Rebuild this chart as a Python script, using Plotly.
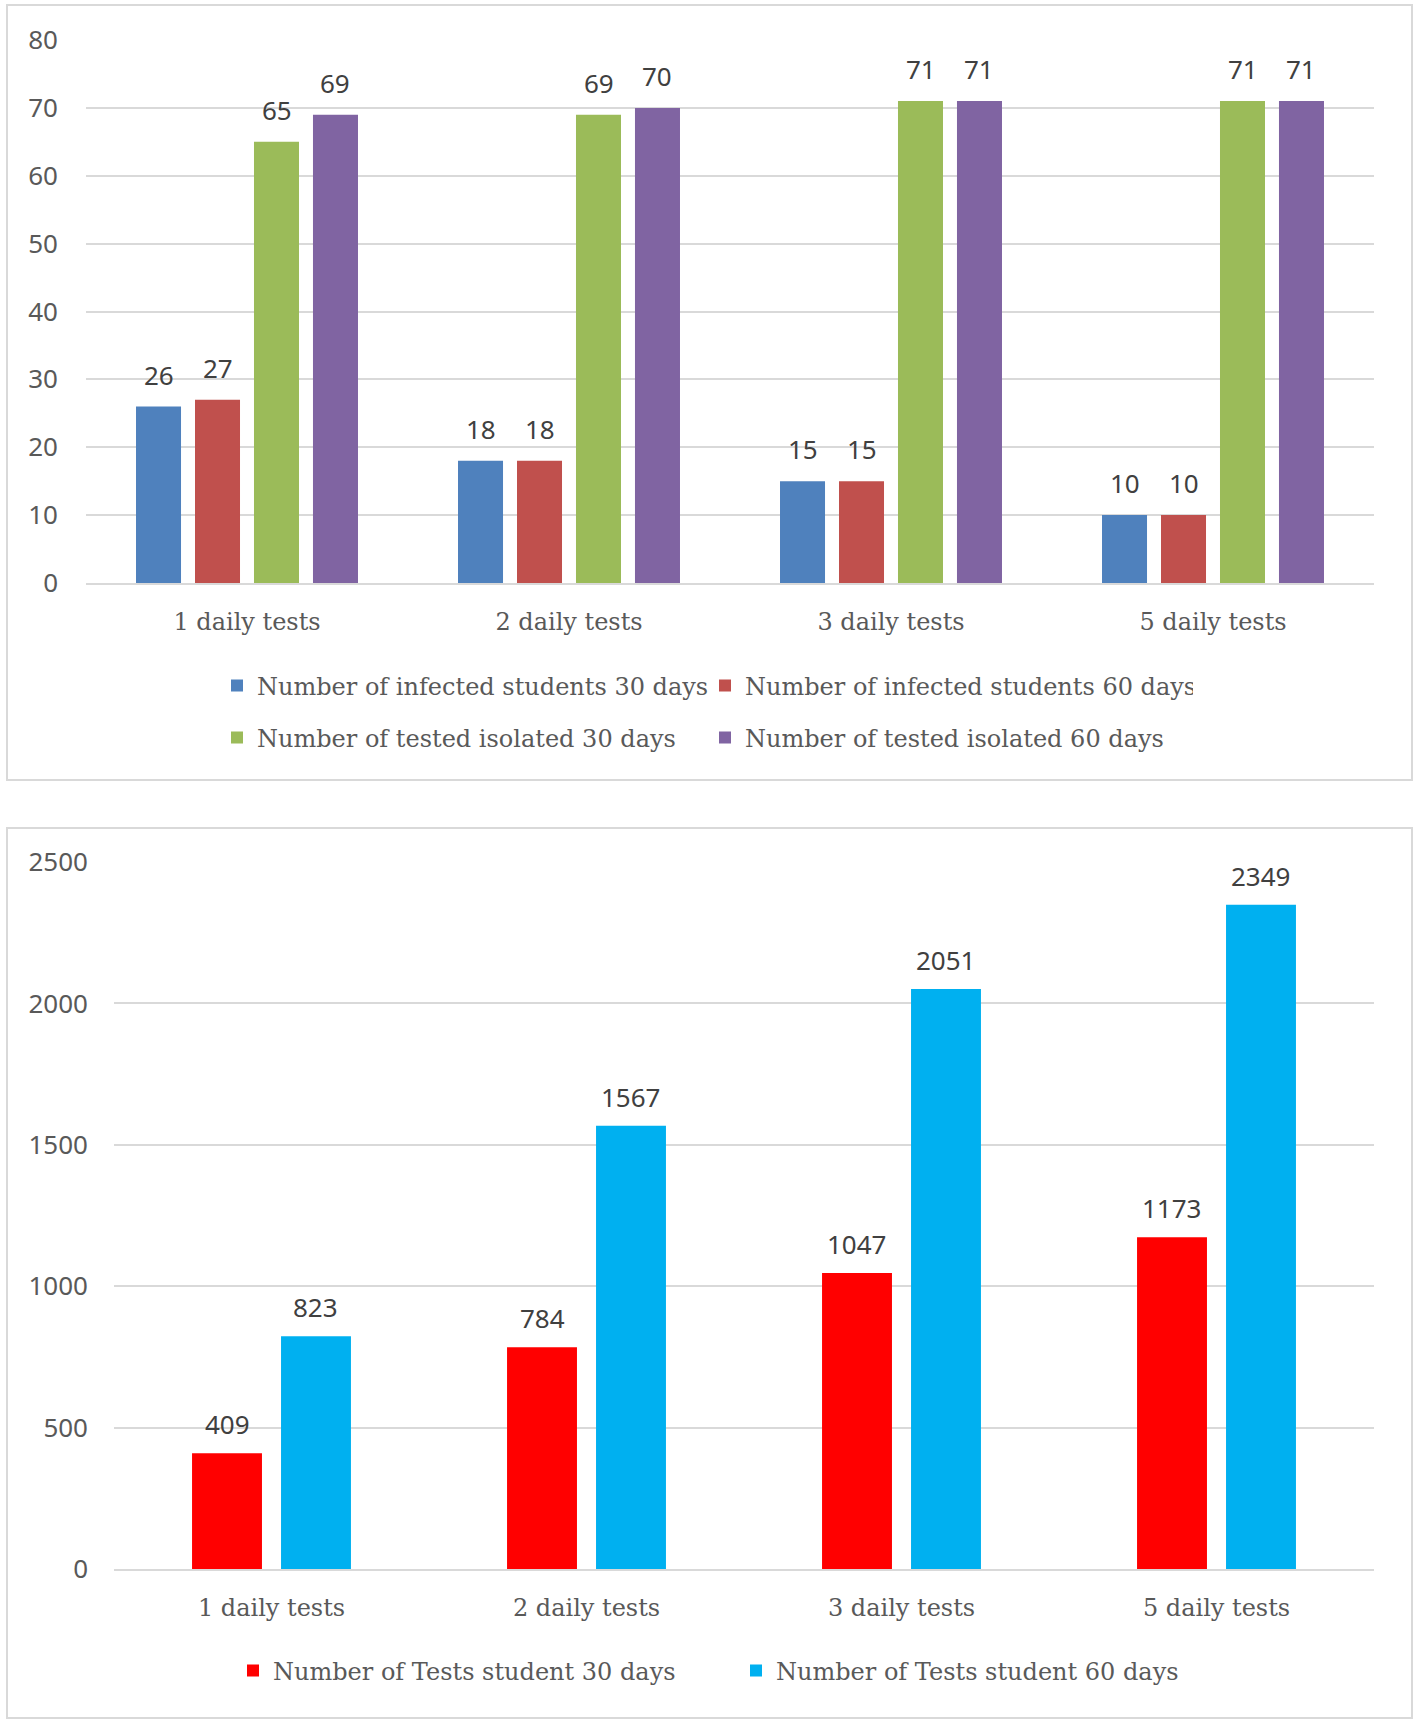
import plotly.graph_objects as go

W, H = 1418, 1724

categories = ["1 daily tests", "2 daily tests", "3 daily tests", "5 daily tests"]

top_names = ["Number of infected students 30 days", "Number of infected students 60 days",
             "Number of tested isolated 30 days", "Number of tested isolated 60 days"]
infected_30 = [26, 18, 15, 10]
infected_60 = [27, 18, 15, 10]
isolated_30 = [65, 69, 71, 71]
isolated_60 = [69, 70, 71, 71]
top_values = [infected_30, infected_60, isolated_30, isolated_60]
top_colors = ["#4F81BD", "#C0504D", "#9BBB59", "#8064A2"]
top_legends = ["legend", "legend", "legend2", "legend2"]
top_yticks = [0, 10, 20, 30, 40, 50, 60, 70, 80]

bot_names = ["Number of Tests student 30 days", "Number of Tests student 60 days"]
tests_30 = [409, 784, 1047, 1173]
tests_60 = [823, 1567, 2051, 2349]
bot_values = [tests_30, tests_60]
bot_colors = ["#FF0000", "#00B0F0"]
bot_yticks = [0, 500, 1000, 1500, 2000, 2500]

SERIF = "DejaVu Serif"
SANS = "Noto Sans"
TXT = "#595959"
LBL = "#404040"
GRID = "#D9D9D9"

def px(x):
    return x / W

def py(y):
    return 1 - y / H

fig = go.Figure()
annotations = []

top_step, top_width = 0.1832, 0.1398
for i, (name, vals, col, lg) in enumerate(zip(top_names, top_values, top_colors, top_legends)):
    c = (i - 1.5) * top_step
    fig.add_trace(go.Bar(
        name=name, x=categories, y=vals, marker=dict(color=col, line=dict(width=0)),
        width=top_width, offset=c - top_width / 2, xaxis="x", yaxis="y", legend=lg,
    ))
    for j, v in enumerate(vals):
        annotations.append(dict(x=j + c, y=v, xref="x", yref="y", text=str(v),
                                showarrow=False, yanchor="middle", yshift=32,
                                font=dict(family=SANS, size=26, color=LBL)))

bot_step, bot_width = 0.2825, 0.222
for i, (name, vals, col) in enumerate(zip(bot_names, bot_values, bot_colors)):
    c = (i - 0.5) * bot_step
    fig.add_trace(go.Bar(
        name=name, x=categories, y=vals, marker=dict(color=col, line=dict(width=0)),
        width=bot_width, offset=c - bot_width / 2, xaxis="x2", yaxis="y2", legend="legend3",
    ))
    for j, v in enumerate(vals):
        annotations.append(dict(x=j + c, y=v, xref="x2", yref="y2", text=str(v),
                                showarrow=False, yanchor="middle", yshift=29,
                                font=dict(family=SANS, size=26, color=LBL)))

xcommon = dict(type="category", showgrid=False, showline=True, linecolor=GRID, linewidth=1.5,
               ticks="", tickfont=dict(family=SERIF, size=24, color=TXT), ticklabelstandoff=16,
               fixedrange=True, automargin=False)
ycommon = dict(showgrid=True, gridcolor=GRID, gridwidth=1.5, zeroline=False, showline=False,
               ticks="", tickfont=dict(family=SANS, size=26, color=TXT), fixedrange=True,
               automargin=False)

legend_font = dict(family=SERIF, size=24, color=TXT)

fig.update_layout(
    width=W, height=H, margin=dict(l=0, r=0, t=0, b=0, autoexpand=False),
    paper_bgcolor="white", plot_bgcolor="white",
    barmode="overlay",
    xaxis=dict(domain=[px(86), px(1374)], anchor="y", range=[-0.5, 3.5], **xcommon),
    yaxis=dict(domain=[py(583), py(40)], anchor="x", range=[0, 80], tickvals=top_yticks,
               ticklabelstandoff=27, **ycommon),
    xaxis2=dict(domain=[px(114), px(1374)], anchor="y2", range=[-0.5, 3.5], **xcommon),
    yaxis2=dict(domain=[py(1569), py(862)], anchor="x2", range=[0, 2500], tickvals=bot_yticks,
                ticklabelstandoff=25, **ycommon),
    legend=dict(orientation="h", x=px(217), y=py(686), xanchor="left", yanchor="middle",
                font=legend_font, entrywidth=443, entrywidthmode="pixels", itemwidth=30,
                bgcolor="rgba(0,0,0,0)"),
    legend2=dict(orientation="h", x=px(217), y=py(738), xanchor="left", yanchor="middle",
                 font=legend_font, entrywidth=443, entrywidthmode="pixels", itemwidth=30,
                 bgcolor="rgba(0,0,0,0)"),
    legend3=dict(orientation="h", x=px(233), y=py(1671), xanchor="left", yanchor="middle",
                 font=legend_font, entrywidth=458, entrywidthmode="pixels", itemwidth=30,
                 bgcolor="rgba(0,0,0,0)"),
    annotations=annotations,
    shapes=[
        dict(type="rect", xref="paper", yref="paper", x0=px(7), x1=px(1412), y0=py(780), y1=py(5),
             line=dict(color=GRID, width=2), fillcolor="rgba(0,0,0,0)", layer="below"),
        dict(type="rect", xref="paper", yref="paper", x0=px(7), x1=px(1412), y0=py(1718), y1=py(828),
             line=dict(color=GRID, width=2), fillcolor="rgba(0,0,0,0)", layer="below"),
    ],
)

fig.write_html("out.html", config={"displayModeBar": False},
               post_script="document.body.style.margin='0px';document.body.style.overflow='hidden';")
